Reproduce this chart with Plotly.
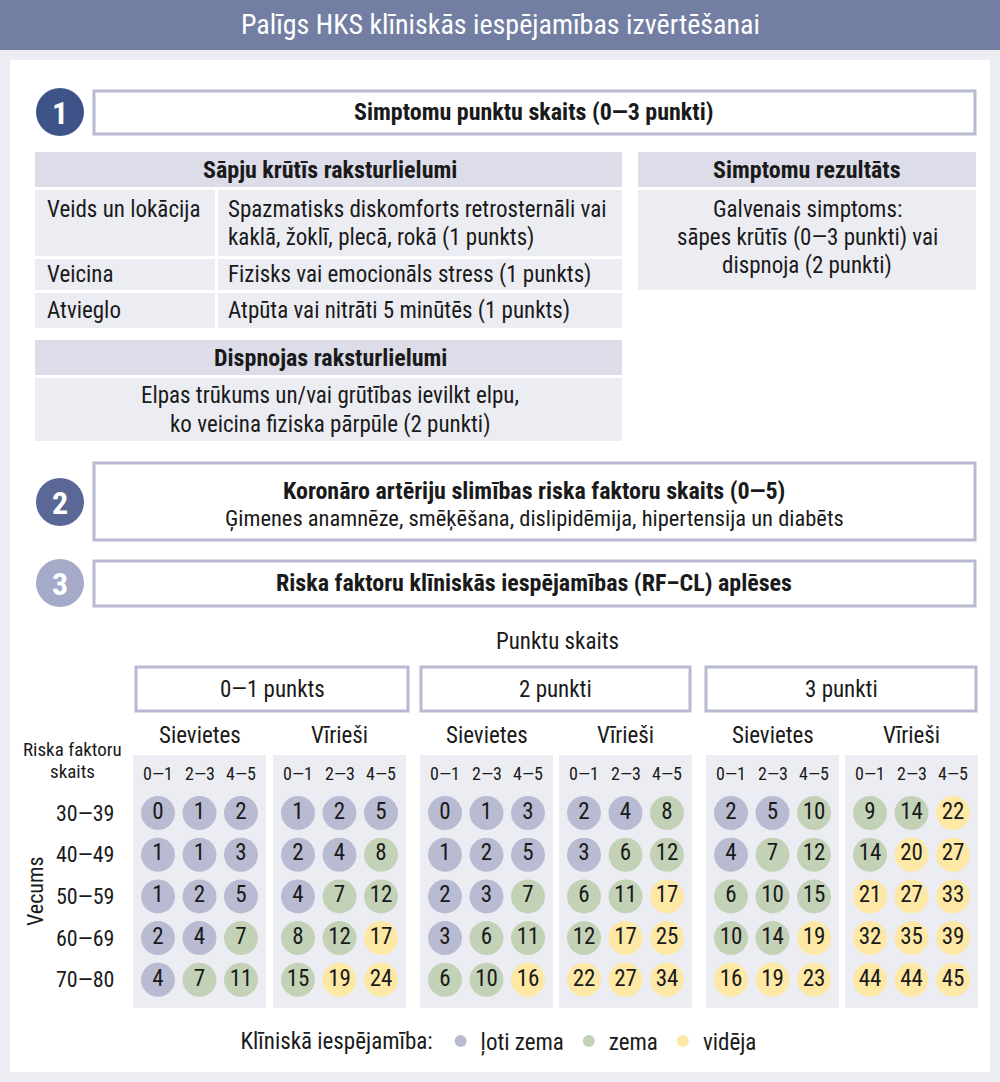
import plotly.graph_objects as go

# ---------------- DATA ----------------
title_text = "Palīgs HKS klīniskās iespējamības izvērtēšanai"
point_groups = ["0—1 punkts", "2 punkti", "3 punkti"]
sexes = ["Sievietes", "Vīrieši"]
rf_labels = ["0—1", "2—3", "4—5"]
age_labels = ["30—39", "40—49", "50—59", "60—69", "70—80"]

g1_women = [[0, 1, 2], [1, 1, 3], [1, 2, 5], [2, 4, 7], [4, 7, 11]]
g1_men = [[1, 2, 5], [2, 4, 8], [4, 7, 12], [8, 12, 17], [15, 19, 24]]
g2_women = [[0, 1, 3], [1, 2, 5], [2, 3, 7], [3, 6, 11], [6, 10, 16]]
g2_men = [[2, 4, 8], [3, 6, 12], [6, 11, 17], [12, 17, 25], [22, 27, 34]]
g3_women = [[2, 5, 10], [4, 7, 12], [6, 10, 15], [10, 14, 19], [16, 19, 23]]
g3_men = [[9, 14, 22], [14, 20, 27], [21, 27, 33], [32, 35, 39], [44, 44, 45]]

likelihood_names = ["ļoti zema", "zema", "vidēja"]
likelihood_upper = [5, 15, 100]  # upper bound (%) for each class

# ---------------- STYLE ----------------
W, H = 1000, 1082
FONT = "Liberation Sans Narrow, Roboto Condensed, DejaVu Sans Condensed, Arial Narrow, sans-serif"
TXT = "#1a1a1a"
PAGE_BG = "#ecedf3"
HEADER_BG = "#737ea3"
CELL_HEAD = "#dcdde8"
CELL_BODY = "#ecedf3"
BORDER = "#b7bad2"
CIRCLE_COLS = ["#3e5387", "#5b6897", "#a4aac8"]
CAT_COLORS = ["#b9bbd2", "#c3d2b6", "#fde8a6"]

fig = go.Figure()
shapes = []
ann = []


def rect(x0, y0, x1, y1, fill, line=None, lw=0):
    shapes.append(dict(type="rect", xref="x", yref="y", x0=x0, y0=y0, x1=x1, y1=y1,
                       fillcolor=fill, line=dict(color=line or fill, width=lw), layer="below"))


def text(x, y, s, size=23, bold=False, color=TXT, xanchor="center", **kw):
    ann.append(dict(x=x, y=y, xref="x", yref="y", text=("<b>%s</b>" % s) if bold else s,
                    showarrow=False, xanchor=xanchor, yanchor="middle",
                    font=dict(family=FONT, size=size, color=color), **kw))


# background panel
rect(10, 60, 990, 1072, "white")
# header
rect(0, 0, 1000, 50, HEADER_BG)
text(500, 24, title_text, size=28, color="white")

# numbered circles
for i, (cy, col) in enumerate(zip([112, 502, 583], CIRCLE_COLS)):
    shapes.append(dict(type="circle", xref="x", yref="y", x0=60 - 24, x1=60 + 24,
                       y0=cy - 24, y1=cy + 24, fillcolor=col, line=dict(width=0)))
    text(60, cy + 1, str(i + 1), size=32, bold=True, color="white")

# section boxes
rect(94, 91, 975, 134, "white", BORDER, 3)
text(534, 112, "Simptomu punktu skaits (0—3 punkti)", size=24, bold=True)
rect(94, 463, 975, 540, "white", BORDER, 3)
text(534, 491, "Koronāro artēriju slimības riska faktoru skaits (0—5)", size=24, bold=True)
text(534, 518, "Ģimenes anamnēze, smēķēšana, dislipidēmija, hipertensija un diabēts", size=22.5)
rect(94, 561, 975, 606, "white", BORDER, 3)
text(534, 583, "Riska faktoru klīniskās iespējamības (RF–CL) aplēses", size=24, bold=True)

# chest pain table
rect(35, 152, 622, 187, CELL_HEAD)
text(330, 170, "Sāpju krūtīs raksturlielumi", size=24, bold=True)
rows = [(190, 256, "Veids un lokācija",
         ["Spazmatisks diskomforts retrosternāli vai", "kaklā, žoklī, plecā, rokā (1 punkts)"]),
        (259, 290, "Veicina", ["Fizisks vai emocionāls stress (1 punkts)"]),
        (293, 328, "Atvieglo", ["Atpūta vai nitrāti 5 minūtēs (1 punkts)"])]
for y0, y1, lab, lines in rows:
    rect(35, y0, 215, y1, CELL_BODY)
    rect(218, y0, 622, y1, CELL_BODY)
    ty = y0 + 19 if len(lines) > 1 else (y0 + y1) / 2
    text(45, ty, lab, xanchor="left")
    for k, ln in enumerate(lines):
        text(226, ty + 28 * k, ln, xanchor="left")

rect(35, 340, 622, 375, CELL_HEAD)
text(330, 358, "Dispnojas raksturlielumi", size=24, bold=True)
rect(35, 378, 622, 441, CELL_BODY)
text(330, 395, "Elpas trūkums un/vai grūtības ievilkt elpu,")
text(330, 424, "ko veicina fiziska pārpūle (2 punkti)")

rect(638, 152, 976, 187, CELL_HEAD)
text(807, 170, "Simptomu rezultāts", size=24, bold=True)
rect(638, 190, 976, 290, CELL_BODY)
text(807, 209, "Galvenais simptoms:")
text(807, 237, "sāpes krūtīs (0—3 punkti) vai")
text(807, 265, "dispnoja (2 punkti)")

# ---------------- RF-CL grid ----------------
text(557, 641, "Punktu skaits", size=23)
group_boxes = [(136, 408), (421, 690), (706, 976)]
panel_left = [133, 273, 420, 559, 706, 845]
panel_w = 133
col_off, col_step = 25, 41.5
row_y0, row_step = 813, 41.7
matrices = [g1_women, g1_men, g2_women, g2_men, g3_women, g3_men]

for g, (bx0, bx1) in enumerate(group_boxes):
    rect(bx0, 667, bx1, 711, "white", BORDER, 3)
    text((bx0 + bx1) / 2, 689, point_groups[g], size=23)

for p, pl in enumerate(panel_left):
    rect(pl, 755, pl + panel_w, 1008, CELL_BODY)
    text(pl + panel_w / 2, 735, sexes[p % 2], size=23)
    for c, lab in enumerate(rf_labels):
        text(pl + col_off + col_step * c, 773, lab, size=18)

text(72, 749, "Riska faktoru", size=19)
text(72, 771, "skaits", size=19)
for r, lab in enumerate(age_labels):
    text(116, row_y0 + row_step * r, lab, size=22, xanchor="right")
text(35, 891, "Vecums", size=22, textangle=-90)

# circles per likelihood class
pts = {k: ([], [], []) for k in range(3)}
for p, mat in enumerate(matrices):
    for r, row in enumerate(mat):
        for c, v in enumerate(row):
            k = next(i for i, ub in enumerate(likelihood_upper) if v <= ub)
            pts[k][0].append(panel_left[p] + col_off + col_step * c)
            pts[k][1].append(row_y0 + row_step * r)
            pts[k][2].append(str(v))

for k in range(3):
    xs, ys, vs = pts[k]
    fig.add_trace(go.Scatter(x=xs, y=ys, mode="markers", name=likelihood_names[k],
                             marker=dict(size=34, color=CAT_COLORS[k], line=dict(width=0)),
                             hoverinfo="skip"))
for k in range(3):
    xs, ys, vs = pts[k]
    fig.add_trace(go.Scatter(x=xs, y=ys, mode="text", text=vs, showlegend=False,
                             textposition="middle center",
                             textfont=dict(family=FONT, size=23, color=TXT), hoverinfo="skip"))

fig.update_layout(
    width=W, height=H, margin=dict(l=0, r=0, t=0, b=0),
    paper_bgcolor=PAGE_BG, plot_bgcolor=PAGE_BG,
    xaxis=dict(range=[0, W], visible=False, fixedrange=True),
    yaxis=dict(range=[H, 0], visible=False, fixedrange=True),
    shapes=shapes, annotations=ann,
    showlegend=True,
    legend=dict(orientation="h", x=0.5, xanchor="center", y=1 - 1041 / H, yanchor="middle",
                bgcolor="rgba(0,0,0,0)", itemsizing="constant", itemwidth=30,
                font=dict(family=FONT, size=23, color=TXT),
                title=dict(text="Klīniskā iespējamība:", side="left",
                           font=dict(family=FONT, size=23, color=TXT))),
)

fig.write_html("out.html", config={"displayModeBar": False},
               post_script="document.body.style.margin='0px';document.body.style.overflow='hidden';")
